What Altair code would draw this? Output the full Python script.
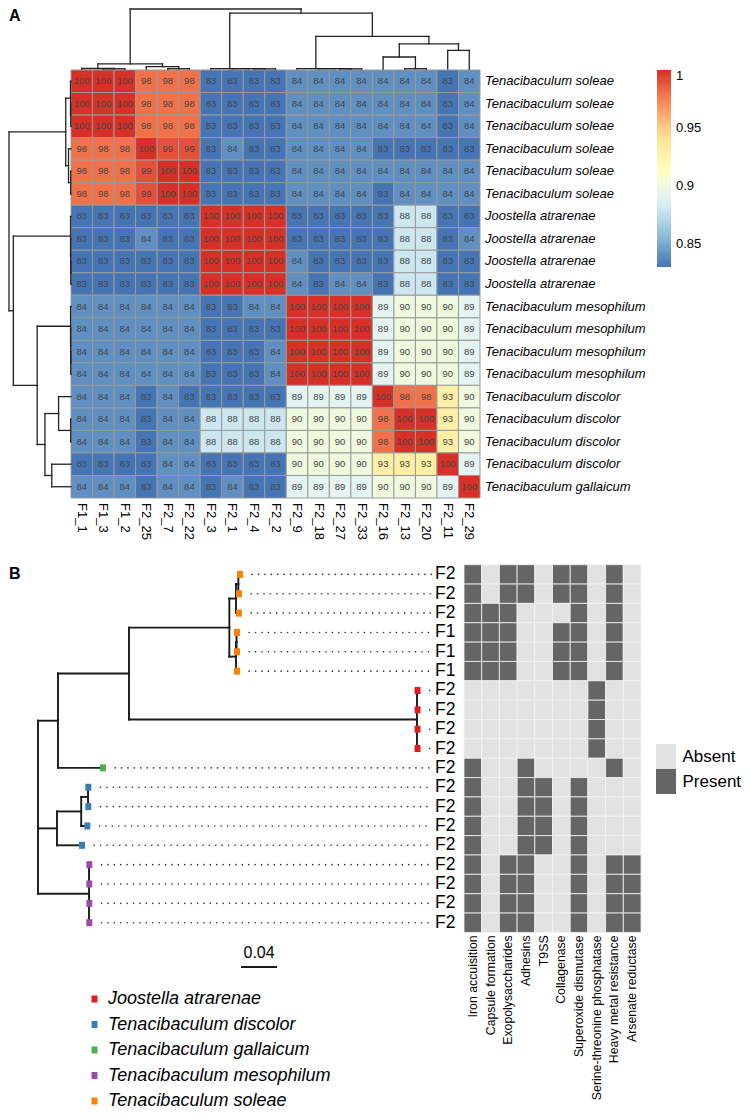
import altair as alt
import pandas as pd

# ---------------- Panel A data ----------------
col_labels = ["F1_1", "F1_3", "F1_2", "F2_25", "F2_7", "F2_22", "F2_3", "F2_1", "F2_4", "F2_2",
              "F2_9", "F2_18", "F2_27", "F2_33", "F2_16", "F2_13", "F2_20", "F2_11", "F2_29"]
row_species = (["Tenacibaculum soleae"] * 6 + ["Joostella atrarenae"] * 4 +
               ["Tenacibaculum mesophilum"] * 4 + ["Tenacibaculum discolor"] * 4 +
               ["Tenacibaculum gallaicum"])
identity = [
    [100, 100, 100, 98, 98, 98, 83, 83, 83, 83, 84, 84, 84, 84, 84, 84, 84, 83, 84],
    [100, 100, 100, 98, 98, 98, 83, 83, 83, 83, 84, 84, 84, 84, 84, 84, 84, 83, 84],
    [100, 100, 100, 98, 98, 98, 83, 83, 83, 83, 84, 84, 84, 84, 84, 84, 84, 83, 84],
    [98, 98, 98, 100, 99, 99, 83, 84, 83, 83, 84, 84, 84, 84, 83, 83, 83, 83, 83],
    [98, 98, 98, 99, 100, 100, 83, 83, 83, 83, 84, 84, 84, 84, 84, 84, 84, 84, 84],
    [98, 98, 98, 99, 100, 100, 83, 83, 83, 83, 84, 84, 84, 84, 83, 84, 84, 84, 84],
    [83, 83, 83, 83, 83, 83, 100, 100, 100, 100, 83, 83, 83, 83, 83, 88, 88, 83, 83],
    [83, 83, 83, 84, 83, 83, 100, 100, 100, 100, 83, 83, 83, 83, 83, 88, 88, 83, 84],
    [83, 83, 83, 83, 83, 83, 100, 100, 100, 100, 84, 83, 83, 83, 83, 88, 88, 83, 83],
    [83, 83, 83, 83, 83, 83, 100, 100, 100, 100, 84, 83, 84, 84, 83, 88, 88, 83, 83],
    [84, 84, 84, 84, 84, 84, 83, 83, 84, 84, 100, 100, 100, 100, 89, 90, 90, 90, 89],
    [84, 84, 84, 84, 84, 84, 83, 83, 83, 83, 100, 100, 100, 100, 89, 90, 90, 90, 89],
    [84, 84, 84, 84, 84, 84, 83, 83, 83, 84, 100, 100, 100, 100, 89, 90, 90, 90, 89],
    [84, 84, 84, 84, 84, 84, 83, 83, 83, 84, 100, 100, 100, 100, 89, 90, 90, 90, 89],
    [84, 84, 84, 83, 84, 83, 83, 83, 83, 83, 89, 89, 89, 89, 100, 98, 98, 93, 90],
    [84, 84, 84, 83, 84, 84, 88, 88, 88, 88, 90, 90, 90, 90, 98, 100, 100, 93, 90],
    [84, 84, 84, 83, 84, 84, 88, 88, 88, 88, 90, 90, 90, 90, 98, 100, 100, 93, 90],
    [83, 83, 83, 83, 84, 84, 83, 83, 83, 83, 90, 90, 90, 90, 93, 93, 93, 100, 89],
    [84, 84, 84, 83, 84, 84, 83, 84, 83, 83, 89, 89, 89, 89, 90, 90, 90, 89, 100],
]
# hclust-style merges: negative = leaf (1-based, display order), positive = earlier merge
merges = [
    (-2, -3, 0.004), (-1, 1, 0.008), (-5, -6, 0.005), (-4, 3, 0.040), (2, 4, 0.085),
    (-9, -10, 0.003), (-8, 6, 0.005), (-7, 7, 0.007),
    (-13, -14, 0.003), (-12, 9, 0.005), (-11, 10, 0.007),
    (-16, -17, 0.005), (-15, 12, 0.200), (-18, -19, 0.310), (13, 14, 0.420),
    (11, 15, 0.545), (8, 16, 0.930), (5, 17, 1.000),
]
legend_values = [0.85, 0.9, 0.95, 1.0]
color_stops = [0.83, 0.8583, 0.8867, 0.915, 0.9433, 0.9717, 1.0]
color_ramp = ["#4575B4", "#91BFDB", "#E0F3F8", "#FFFFBF", "#FEE090", "#FC8D59", "#D73027"]

# ---------------- Panel B data ----------------
tip_labels = ["F2", "F2", "F2", "F1", "F1", "F1", "F2", "F2", "F2", "F2",
              "F2", "F2", "F2", "F2", "F2", "F2", "F2", "F2", "F2"]
tip_species = (["Tenacibaculum soleae"] * 6 + ["Joostella atrarenae"] * 4 +
               ["Tenacibaculum gallaicum"] + ["Tenacibaculum discolor"] * 4 +
               ["Tenacibaculum mesophilum"] * 4)
tip_x = [0.2244, 0.2233, 0.2233, 0.2211, 0.2211, 0.2211, 0.4217, 0.4217, 0.4217, 0.4217,
         0.0722, 0.0559, 0.0559, 0.0548, 0.0489, 0.0570, 0.0570, 0.0570, 0.0570]
tree_nodes = [
    ("n1", [0, 1], 0.2226), ("n2", ["n1", 2], 0.2200), ("n3", [3, 4], 0.2206),
    ("n4", ["n3", 5], 0.2200), ("n5", ["n2", "n4"], 0.2126), ("n6", [6, 7, 8, 9], 0.4211),
    ("n7", ["n5", "n6"], 0.1011), ("n8", ["n7", 10], 0.0222), ("n9", [11, 12], 0.0556),
    ("n10", ["n9", 13], 0.0480), ("n11", ["n10", 14], 0.0211), ("n12", [15, 16, 17, 18], 0.0567),
    ("root", ["n8", "n11", "n12"], 0.0),
]
species_list = ["Joostella atrarenae", "Tenacibaculum discolor", "Tenacibaculum gallaicum",
                "Tenacibaculum mesophilum", "Tenacibaculum soleae"]
species_colors = ["#E41A1C", "#377EB8", "#4DAF4A", "#984EA3", "#FF7F00"]
features = ["Iron accuisition", "Capsule formation", "Exopolysaccharides", "Adhesins", "T9SS",
            "Collagenase", "Superoxide dismutase", "Serine-threonine phosphatase",
            "Heavy metal resistance", "Arsenate reductase"]
presence = [
    [1, 0, 1, 1, 0, 1, 1, 0, 1, 0],
    [1, 0, 1, 1, 0, 1, 1, 0, 1, 0],
    [1, 1, 1, 0, 0, 0, 1, 0, 1, 0],
    [1, 1, 1, 0, 0, 1, 1, 0, 1, 0],
    [1, 1, 1, 0, 0, 1, 1, 0, 1, 0],
    [1, 1, 1, 0, 0, 1, 1, 0, 1, 0],
    [0, 0, 0, 0, 0, 0, 0, 1, 0, 0],
    [0, 0, 0, 0, 0, 0, 0, 1, 0, 0],
    [0, 0, 0, 0, 0, 0, 0, 1, 0, 0],
    [0, 0, 0, 0, 0, 0, 0, 1, 0, 0],
    [1, 0, 0, 1, 0, 0, 0, 0, 1, 0],
    [1, 0, 0, 1, 1, 0, 1, 0, 0, 0],
    [1, 0, 0, 1, 1, 0, 1, 0, 0, 0],
    [1, 0, 0, 1, 1, 0, 1, 0, 0, 0],
    [1, 0, 0, 1, 1, 0, 1, 0, 0, 0],
    [1, 0, 1, 1, 0, 0, 1, 0, 1, 1],
    [1, 0, 1, 1, 0, 0, 1, 0, 1, 1],
    [1, 0, 1, 1, 0, 0, 1, 0, 1, 1],
    [1, 0, 1, 1, 0, 0, 1, 0, 1, 1],
]
state_names = ["Absent", "Present"]
state_colors = ["#E2E2E2", "#656565"]
scale_bar_len = 0.04

# ---------------- helpers ----------------
OFF = 8
FONT = "Liberation Sans"


def R(a, b):
    return [a - OFF, b - OFF]


def lin(d, r):
    return alt.Scale(domain=d, range=r, nice=False, zero=False)


n = len(col_labels)

# heatmap A table
cells = []
for r, row in enumerate(identity):
    for c, v in enumerate(row):
        cells.append(dict(r0=r, r1=r + 1, rm=r + 0.5, c0=c, c1=c + 1, cm=c + 0.5,
                          frac=v / 100.0, lab=str(v)))
dfA = pd.DataFrame(cells)
dfRowLab = pd.DataFrame({"rm": [i + 0.5 for i in range(n)], "lab": row_species, "edge": n})
dfColLab = pd.DataFrame({"cm": [i + 0.5 for i in range(n)], "lab": col_labels, "edge": n})

# dendrogram segments
pos, hgt = {}, {}
for i in range(n):
    pos[-(i + 1)] = i + 0.5
    hgt[-(i + 1)] = 0.0
segs = []
for k, (a, b, h) in enumerate(merges, start=1):
    segs.append(dict(p0=pos[a], p1=pos[b], h0=h, h1=h))
    segs.append(dict(p0=pos[a], p1=pos[a], h0=hgt[a], h1=h))
    segs.append(dict(p0=pos[b], p1=pos[b], h0=hgt[b], h1=h))
    pos[k] = (pos[a] + pos[b]) / 2.0
    hgt[k] = h
dfDen = pd.DataFrame(segs)

xA = lin([0, n], R(71, 480))
yA = lin([0, n], R(70, 498))
xTop = lin([0, n], R(71, 480))
yTop = lin([0, 1], R(69, 9))
xLeft = lin([0, 1], R(71, 9))
yLeft = lin([0, n], R(70, 498))

heat = alt.Chart(dfA).mark_rect(stroke="#999999", strokeWidth=1).encode(
    x=alt.X("c0:Q", scale=xA, axis=None), x2="c1:Q",
    y=alt.Y("r0:Q", scale=yA, axis=None), y2="r1:Q",
    color=alt.Color("frac:Q",
                    scale=alt.Scale(domain=color_stops, range=color_ramp, interpolate="rgb"),
                    legend=alt.Legend(orient="none", legendX=649, legendY=62, direction="vertical",
                                      title=None, gradientLength=197, gradientThickness=14,
                                      gradientStrokeWidth=0, values=legend_values,
                                      labelExpr="format(datum.value, '~g')",
                                      labelFontSize=13, labelFont=FONT, labelColor="black",
                                      labelOffset=5, labelOverlap=False, labelBaseline="middle",
                                      padding=0)),
)
nums = alt.Chart(dfA).mark_text(fontSize=9.5, color="#454545", font=FONT).encode(
    x=alt.X("cm:Q", scale=xA, axis=None), y=alt.Y("rm:Q", scale=yA, axis=None), text="lab:N")
rowlab = alt.Chart(dfRowLab).mark_text(align="left", baseline="middle", dx=5, fontSize=13,
                                        fontStyle="italic", font=FONT, color="black").encode(
    x=alt.X("edge:Q", scale=xA, axis=None), y=alt.Y("rm:Q", scale=yA, axis=None), text="lab:N")
collab = alt.Chart(dfColLab).mark_text(align="left", baseline="middle", angle=90, dx=5,
                                        fontSize=13, font=FONT, color="black").encode(
    x=alt.X("cm:Q", scale=xA, axis=None), y=alt.Y("edge:Q", scale=yA, axis=None), text="lab:N")
G1 = alt.layer(heat, nums, rowlab, collab)

G2 = alt.Chart(dfDen).mark_rule(color="#222222", strokeWidth=1.3, strokeCap="square").encode(
    x=alt.X("p0:Q", scale=xTop, axis=None), x2="p1:Q",
    y=alt.Y("h0:Q", scale=yTop, axis=None), y2="h1:Q")
G3 = alt.Chart(dfDen).mark_rule(color="#222222", strokeWidth=1.3, strokeCap="square").encode(
    y=alt.Y("p0:Q", scale=yLeft, axis=None), y2="p1:Q",
    x=alt.X("h0:Q", scale=xLeft, axis=None), x2="h1:Q")

# ---------------- tree ----------------
ny = {}
nx = {}
for i in range(len(tip_x)):
    ny[i] = i + 0.5
    nx[i] = tip_x[i]
tsegs = []
for name, kids, xv in tree_nodes:
    ys = [ny[k] for k in kids]
    ny[name] = (min(ys) + max(ys)) / 2.0
    nx[name] = xv
    tsegs.append(dict(x0=xv, x1=xv, y0=min(ys), y1=max(ys)))
    for k in kids:
        tsegs.append(dict(x0=xv, x1=nx[k], y0=ny[k], y1=ny[k]))
dfTree = pd.DataFrame(tsegs)
dfTips = pd.DataFrame({"tx": tip_x, "ym": [i + 0.5 for i in range(len(tip_x))],
                       "species": tip_species, "lab": tip_labels,
                       "d0": [t + 0.0135 for t in tip_x], "d1": 0.4378, "lx": 0.4411})

xT = lin([0, 0.4], R(38, 398))
yB = lin([0, len(tip_x)], R(564.7, 932.4))
tri_path = "M-0.85,-1H0.85V1H-0.85Z"

tree = alt.Chart(dfTree).mark_rule(color="#1a1a1a", strokeWidth=1.9, strokeCap="square").encode(
    x=alt.X("x0:Q", scale=xT, axis=None), x2="x1:Q",
    y=alt.Y("y0:Q", scale=yB, axis=None), y2="y1:Q")
dots = alt.Chart(dfTips).mark_rule(color="#333333", strokeWidth=1.6, strokeDash=[0.1, 6.3],
                                   strokeCap="round").encode(
    x=alt.X("d0:Q", scale=xT, axis=None), x2="d1:Q", y=alt.Y("ym:Q", scale=yB, axis=None))
tiplab = alt.Chart(dfTips).mark_text(align="left", baseline="middle", fontSize=17.5, font=FONT,
                                     color="black").encode(
    x=alt.X("lx:Q", scale=xT, axis=None), y=alt.Y("ym:Q", scale=yB, axis=None), text="lab:N")
tips = alt.Chart(dfTips).mark_point(shape=tri_path, size=49, filled=True, opacity=1).encode(
    x=alt.X("tx:Q", scale=xT, axis=None), y=alt.Y("ym:Q", scale=yB, axis=None),
    color=alt.Color("species:N", scale=alt.Scale(domain=species_list, range=species_colors),
                    legend=alt.Legend(orient="none", legendX=77.5, legendY=982, title=None,
                                      symbolType=tri_path, symbolSize=49, symbolStrokeWidth=0,
                                      symbolOpacity=1,
                                      labelFontSize=18, labelFontStyle="italic", labelFont=FONT,
                                      labelColor="black", labelOffset=4.5, labelLimit=400,
                                      rowPadding=7.5, padding=0)))
dfBar = pd.DataFrame({"s0": [0.2256], "s1": [0.2256 + scale_bar_len],
                      "sm": [0.2256 + scale_bar_len / 2], "lab": [str(scale_bar_len)]})
sbar = alt.Chart(dfBar).mark_rule(color="#1a1a1a", strokeWidth=1.8).encode(
    x=alt.X("s0:Q", scale=xT, axis=None), x2="s1:Q", y=alt.value(967 - OFF))
slab = alt.Chart(dfBar).mark_text(fontSize=16, font=FONT, color="black", baseline="middle").encode(
    x=alt.X("sm:Q", scale=xT, axis=None), y=alt.value(953 - OFF), text="lab:N")
G4 = alt.layer(tree, dots, tiplab, tips, sbar, slab)

# ---------------- presence heatmap ----------------
pcells = []
for r, row in enumerate(presence):
    for c, v in enumerate(row):
        pcells.append(dict(r0=r, r1=r + 1, c0=c, c1=c + 1, state=state_names[v]))
dfP = pd.DataFrame(pcells)
dfFeat = pd.DataFrame({"cm": [i + 0.5 for i in range(len(features))], "lab": features,
                       "edge": len(presence)})
xB = lin([0, len(features)], R(464, 641))
pheat = alt.Chart(dfP).mark_rect(stroke="#f4f4f4", strokeWidth=0.8).encode(
    x=alt.X("c0:Q", scale=xB, axis=None), x2="c1:Q",
    y=alt.Y("r0:Q", scale=yB, axis=None), y2="r1:Q",
    color=alt.Color("state:N", scale=alt.Scale(domain=state_names, range=state_colors),
                    legend=alt.Legend(orient="none", legendX=645.5, legendY=736, title=None,
                                      symbolType="M-0.8,-1H0.8V1H-0.8Z", symbolSize=625,
                                      symbolStrokeWidth=0, symbolOpacity=1,
                                      labelFontSize=17, labelFont=FONT, labelColor="black",
                                      labelOffset=4, labelLimit=200, rowPadding=0, padding=0)))
featlab = alt.Chart(dfFeat).mark_text(align="right", baseline="middle", angle=270, dx=-3,
                                      fontSize=12.3, font=FONT, color="black").encode(
    x=alt.X("cm:Q", scale=xB, axis=None), y=alt.Y("edge:Q", scale=yB, axis=None), text="lab:N")
G5 = alt.layer(pheat, featlab)

# ---------------- panel letters ----------------
dfA_lab = pd.DataFrame({"t": ["A"]})
dfB_lab = pd.DataFrame({"t": ["B"]})
letA = alt.Chart(dfA_lab).mark_text(fontSize=16, fontWeight="bold", font=FONT, align="left",
                                     baseline="middle", color="black").encode(
    x=alt.value(1), y=alt.value(16 - OFF), text="t:N")
letB = alt.Chart(dfB_lab).mark_text(fontSize=16, fontWeight="bold", font=FONT, align="left",
                                     baseline="middle", color="black").encode(
    x=alt.value(1), y=alt.value(574 - OFF), text="t:N")

chart = alt.layer(G1, G2, G3, G4, G5, letA, letB).resolve_scale(
    x="independent", y="independent", color="independent"
).properties(
    width=734, height=1104, autosize=alt.AutoSizeParams(type="none"), padding=0,
    background="white"
).configure_view(strokeWidth=0).configure_text(font=FONT)

chart.save("out.html", embed_options={"renderer": "svg", "actions": False})
